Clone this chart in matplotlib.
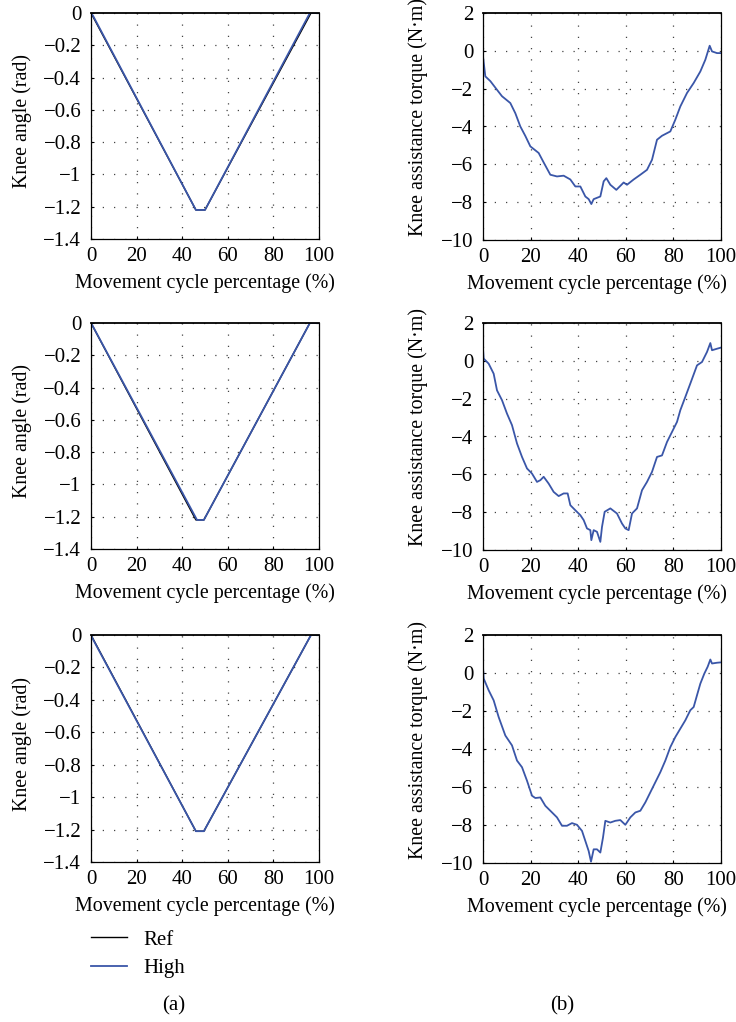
import matplotlib
matplotlib.use("Agg")
import matplotlib.pyplot as plt

plt.rcParams['font.family'] = ['Liberation Serif', 'DejaVu Serif']

# ---------------- data ----------------
# Knee angle (rad) vs movement cycle percentage (%)
ang_ref_x = [[0, 46, 50, 96.5, 100], [0, 46, 49.5, 96, 100], [0, 46, 49.5, 96.5, 100]]
ang_ref_y = [[0, -1.22, -1.22, 0, 0], [0, -1.22, -1.22, 0, 0], [0, -1.21, -1.21, 0, 0]]
ang_high_x = [[0, 1, 46, 50, 96, 100], [0, 1, 46.5, 49.5, 96, 100], [0, 1, 46, 49.5, 96.5, 100]]
ang_high_y = [[0, -0.02, -1.22, -1.22, 0, 0], [0, -0.025, -1.22, -1.22, 0, 0], [0, -0.03, -1.21, -1.21, 0, 0]]

# Knee assistance torque (N·m)
tq1_x = [0, 0.98, 3.08, 5.88, 7.98, 11.48, 13.59, 15.69, 17.79, 19.89, 23.39, 25.49, 28.29, 31.09,
         33.89, 36.69, 38.80, 40.90, 43.00, 44.40, 45.52, 46.50, 49.30, 50.70, 51.82, 53.50, 56.02,
         59.10, 60.50, 63.31, 66.11, 68.91, 71.01, 73.11, 75.21, 78.71, 80.81, 82.91, 85.71, 88.52,
         91.32, 93.42, 95.24, 96.22, 98.32, 100]
tq1_y = [-0.3, -1.35, -1.6, -2.06, -2.4, -2.76, -3.3, -4.0, -4.5, -5.05, -5.4, -5.9, -6.55, -6.64,
         -6.6, -6.8, -7.17, -7.17, -7.7, -7.84, -8.1, -7.84, -7.7, -6.9, -6.73, -7.08, -7.35,
         -6.96, -7.08, -6.8, -6.55, -6.29, -5.76, -4.7, -4.49, -4.26, -3.64, -2.94, -2.23, -1.7,
         -1.09, -0.47, 0.27, -0.03, -0.12, -0.12]

tq2_x = [0, 0.28, 2.38, 4.48, 5.88, 7.98, 10.08, 12.18, 14.29, 16.39, 18.49, 20.59, 22.69, 24.09,
         25.49, 27.59, 29.69, 31.79, 33.89, 35.57, 36.69, 38.80, 40.90, 42.30, 43.70, 45.10, 45.52,
         46.50, 47.90, 49.30, 50.00, 51.12, 53.50, 56.30, 58.40, 59.80, 61.20, 62.61, 64.71, 66.81,
         68.91, 71.01, 73.11, 75.21, 77.31, 79.41, 81.51, 82.91, 85.01, 87.11, 89.92, 92.02, 94.12,
         95.52, 96.22, 98.32, 100]
tq2_y = [0.64, 0.12, -0.15, -0.68, -1.56, -2.08, -2.79, -3.4, -4.37, -5.08, -5.69, -5.96, -6.4, -6.31,
         -6.13, -6.49, -6.93, -7.15, -7.01, -7.01, -7.63, -7.9, -8.16, -8.42, -8.86, -8.95, -9.48,
         -8.95, -9.04, -9.57, -8.78, -7.98, -7.8, -8.07, -8.6, -8.86, -8.95, -8.07, -7.8, -6.84,
         -6.4, -5.87, -5.08, -5.0, -4.29, -3.76, -3.23, -2.61, -1.91, -1.2, -0.24, -0.06, 0.47,
         0.94, 0.56, 0.64, 0.70]

tq3_x = [0, 0.28, 2.38, 4.48, 6.58, 9.38, 12.18, 14.29, 16.39, 18.49, 20.59, 21.99, 24.09, 26.19,
         28.29, 31.09, 33.19, 35.29, 37.39, 39.50, 41.60, 43.00, 44.40, 45.38, 46.50, 47.90, 49.30,
         50.42, 51.40, 53.50, 55.60, 57.70, 59.80, 61.90, 64.01, 66.11, 68.21, 70.31, 72.41, 74.51,
         76.61, 78.71, 80.81, 82.91, 85.01, 87.11, 88.52, 89.92, 91.32, 93.00, 94.40, 95.52, 96.22,
         98.32, 100]
tq3_y = [0.33, -0.29, -0.91, -1.44, -2.32, -3.29, -3.81, -4.61, -4.96, -5.67, -6.46, -6.58, -6.55, -6.99,
         -7.25, -7.6, -8.04, -8.04, -7.9, -7.99, -8.31, -8.84, -9.37, -9.93, -9.28, -9.28, -9.45,
         -8.66, -7.78, -7.87, -7.78, -7.74, -7.99, -7.6, -7.34, -7.25, -6.81, -6.28, -5.75, -5.22,
         -4.61, -3.9, -3.37, -2.93, -2.49, -1.96, -1.79, -1.17, -0.56, -0.03, 0.33, 0.71, 0.5,
         0.54, 0.56]

x_ticks = [0, 20, 40, 60, 80, 100]
ang_ticks = [0, -0.2, -0.4, -0.6, -0.8, -1, -1.2, -1.4]
ang_tick_labels = ['0', '\u22120.2', '\u22120.4', '\u22120.6', '\u22120.8', '\u22121', '\u22121.2', '\u22121.4']
tq_ticks = [2, 0, -2, -4, -6, -8, -10]

series_labels = ['Ref', 'High']
xlabel = 'Movement cycle percentage (%)'
ylabel_ang = 'Knee angle (rad)'
ylabel_tq = 'Knee assistance torque (N\u00b7m)'

# ---------------- layout ----------------
W, H = 736, 1022
fig = plt.figure(figsize=(W / 100, H / 100), dpi=100)

def px_axes(x0, y0, x1, y1):
    return fig.add_axes([x0 / W, 1 - y1 / H, (x1 - x0) / W, (y1 - y0) / H])

rows = [(13, 239), (323, 549), (635, 862)]
blue = '#3a56a8'
fs = 15
fs_lab = 14.4

def style(ax, ylabel_x_px, ylabel_y_frac, xlabel_x_frac, x0, width):
    ax.set_xlim(0, 100)
    ax.set_xticks(x_ticks)
    ax.grid(True, color='#444444', linestyle=(0, (1, 8)), linewidth=0.9)
    ax.tick_params(direction='in', length=2, labelsize=fs)
    ax.tick_params(axis='x', pad=6)
    ax.tick_params(axis='y', pad=7)
    for s in ax.spines.values():
        s.set_linewidth(0.9)
    ax.spines['top'].set_linewidth(1.3)
    ax.set_xlabel(xlabel, fontsize=fs_lab)
    ax.xaxis.set_label_coords(xlabel_x_frac, -44 / 226, transform=ax.transAxes)
    ax.yaxis.set_label_coords((ylabel_x_px - x0) / width, ylabel_y_frac, transform=ax.transAxes)
    ax.xaxis.label.set_va('center')
    ax.yaxis.label.set_va('center')

tq_x = [tq1_x, tq2_x, tq3_x]
tq_y = [tq1_y, tq2_y, tq3_y]
handles = None
for i, (t, b) in enumerate(rows):
    axl = px_axes(91, t, 319, b)
    l1, = axl.plot(ang_ref_x[i], ang_ref_y[i], color='black', lw=1.0, label=series_labels[0])
    l2, = axl.plot(ang_high_x[i], ang_high_y[i], color=blue, lw=1.3, label=series_labels[1])
    axl.set_ylim(-1.4, 0)
    axl.set_yticks(ang_ticks)
    axl.set_yticklabels(ang_tick_labels)
    axl.set_ylabel(ylabel_ang, fontsize=fs_lab)
    style(axl, 22, 0.52, 0.5, 91, 228)
    handles = [l1, l2]

    axr = px_axes(483, t, 721, b + 1)
    axr.plot(tq_x[i], tq_y[i], color=blue, lw=1.3)
    axr.set_ylim(-10, 2)
    axr.set_yticks(tq_ticks)
    axr.set_ylabel(ylabel_tq, fontsize=fs_lab)
    style(axr, 418, 0.54, 0.478, 483, 238)

fig.legend(handles, series_labels, loc='upper left', bbox_to_anchor=(91 / W, 1 - 930 / H),
           frameon=False, fontsize=fs, handlelength=1.75, handletextpad=0.75, labelspacing=0.42,
           borderpad=0, borderaxespad=0)

fig.text(174 / W, 1 - 1006 / H, '(a)', ha='center', va='center', fontsize=fs)
fig.text(562 / W, 1 - 1006 / H, '(b)', ha='center', va='center', fontsize=fs)

fig.savefig('out.png', dpi=100)
